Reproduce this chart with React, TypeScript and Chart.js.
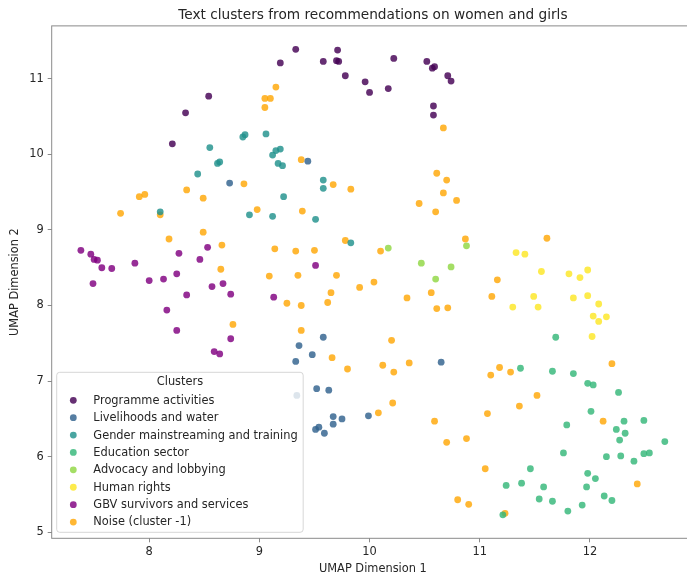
import { useEffect, useRef } from "react";
import { Chart, registerables } from "chart.js";

Chart.register(...registerables);

const FONT = "'DejaVu Sans', 'Liberation Sans', sans-serif";
const TEXT = "#262626";
const FRAME = "#8a8a8a";

const chartTitle = "Text clusters from recommendations on women and girls";
const xAxisTitle = "UMAP Dimension 1";
const yAxisTitle = "UMAP Dimension 2";
const xTicks = [8, 9, 10, 11, 12];
const yTicks = [5, 6, 7, 8, 9, 10, 11];
const xRange = [7.115, 12.945];
const yRange = [4.92, 11.7];

const clusterNames = [
  "Programme activities",
  "Livelihoods and water",
  "Gender mainstreaming and training",
  "Education sector",
  "Advocacy and lobbying",
  "Human rights",
  "GBV survivors and services",
  "Noise (cluster -1)",
];

const clusterColors = [
  "rgba(68, 1, 84, 0.82)",
  "rgba(49, 98, 142, 0.82)",
  "rgba(33, 145, 140, 0.82)",
  "rgba(53, 183, 121, 0.82)",
  "rgba(144, 215, 67, 0.82)",
  "rgba(253, 231, 37, 0.82)",
  "rgba(128, 0, 128, 0.82)",
  "rgba(255, 165, 0, 0.8)",
];

type P = [number, number];

const programmeActivities: P[] = [
  [8.54, 10.77], [8.33, 10.55], [8.21, 10.14], [9.33, 11.39], [9.19, 11.21],
  [9.71, 11.38], [9.58, 11.23], [9.7, 11.24], [9.72, 11.23], [10.22, 11.27],
  [9.78, 11.04], [9.96, 10.96], [10.0, 10.82], [10.17, 10.87], [10.52, 11.23],
  [10.57, 11.14], [10.59, 11.16], [10.71, 11.04], [10.74, 10.97], [10.58, 10.64],
  [10.58, 10.52],
];

const livelihoodsWater: P[] = [
  [8.73, 9.62], [9.44, 9.91], [9.58, 7.58], [9.36, 7.47], [9.48, 7.35],
  [9.33, 7.26], [10.65, 7.25], [9.52, 6.9], [9.63, 6.88], [9.67, 6.53],
  [9.75, 6.5], [9.67, 6.43], [9.51, 6.36], [9.54, 6.39], [9.59, 6.31],
  [9.99, 6.54], [9.34, 6.81],
];

const genderMainstreaming: P[] = [
  [8.87, 10.26], [8.85, 10.23], [8.55, 10.09], [8.62, 9.88], [8.64, 9.9],
  [8.44, 9.74], [8.1, 9.24], [8.91, 9.2], [9.06, 10.27], [9.12, 9.99],
  [9.15, 10.05], [9.19, 10.07], [9.17, 9.88], [9.21, 9.85], [9.58, 9.66],
  [9.58, 9.55], [9.22, 9.44], [9.12, 9.18], [9.51, 9.14], [9.83, 8.83],
];

const educationSector: P[] = [
  [11.69, 7.58], [11.37, 7.17], [11.66, 7.13], [11.85, 7.1], [11.98, 6.97],
  [12.03, 6.95], [12.26, 6.85], [12.01, 6.6], [12.31, 6.47], [12.49, 6.48],
  [12.24, 6.36], [12.32, 6.31], [12.27, 6.22], [11.79, 6.42], [12.68, 6.2],
  [11.76, 6.05], [12.15, 6.0], [12.28, 6.01], [12.4, 5.94], [12.49, 6.04],
  [12.54, 6.05], [11.46, 5.84], [11.24, 5.62], [11.38, 5.65], [11.58, 5.6],
  [11.54, 5.44], [11.66, 5.41], [11.8, 5.28], [11.93, 5.36], [11.98, 5.78],
  [12.05, 5.71], [11.97, 5.6], [12.13, 5.48], [12.2, 5.42], [11.21, 5.23],
];

const advocacyLobbying: P[] = [
  [10.17, 8.76], [10.88, 8.79], [10.47, 8.56], [10.74, 8.51], [10.6, 8.35],
];

const humanRights: P[] = [
  [11.33, 8.7], [11.41, 8.68], [11.56, 8.45], [11.81, 8.42], [11.91, 8.37],
  [11.98, 8.47], [11.49, 8.12], [11.3, 7.98], [11.53, 7.98], [11.85, 8.1],
  [11.98, 8.13], [12.08, 8.02], [12.03, 7.86], [12.08, 7.79], [12.15, 7.85],
  [12.02, 7.59],
];

const gbvSurvivors: P[] = [
  [7.38, 8.73], [7.47, 8.68], [7.5, 8.61], [7.53, 8.6], [7.57, 8.5],
  [7.66, 8.49], [7.87, 8.56], [8.27, 8.69], [8.53, 8.77], [8.46, 8.61],
  [8.25, 8.42], [7.49, 8.29], [8.0, 8.33], [8.13, 8.35], [8.67, 8.29],
  [8.57, 8.25], [8.34, 8.14], [8.74, 8.15], [8.16, 7.94], [8.25, 7.67],
  [8.74, 7.56], [8.59, 7.39], [8.64, 7.36], [9.51, 8.53], [9.13, 8.11],
];

const noise: P[] = [
  [8.86, 9.61], [8.34, 9.53], [7.91, 9.44], [7.96, 9.47], [8.49, 9.42],
  [7.74, 9.22], [8.1, 9.2], [8.98, 9.27], [8.49, 8.97], [8.18, 8.88],
  [8.66, 8.8], [8.65, 8.48], [8.76, 7.75], [9.15, 10.89], [9.05, 10.74],
  [9.1, 10.74], [9.05, 10.62], [10.67, 10.35], [9.38, 9.93], [9.67, 9.6],
  [9.83, 9.54], [10.61, 9.75], [10.7, 9.66], [10.67, 9.49], [10.79, 9.39],
  [10.45, 9.35], [10.6, 9.24], [9.39, 9.25], [9.14, 8.75], [9.33, 8.72],
  [9.5, 8.73], [9.78, 8.86], [10.1, 8.72], [9.09, 8.39], [9.35, 8.4],
  [9.7, 8.4], [10.04, 8.31], [9.91, 8.24], [10.87, 8.88], [9.25, 8.03],
  [9.38, 8.0], [9.65, 8.17], [9.62, 8.04], [10.34, 8.1], [10.56, 8.17],
  [10.61, 7.96], [10.71, 7.97], [9.38, 7.67], [9.66, 7.31], [9.8, 7.16],
  [10.2, 7.54], [10.12, 7.21], [10.22, 7.12], [10.36, 7.24], [10.21, 6.71],
  [10.08, 6.58], [10.59, 6.47], [10.7, 6.19], [10.88, 6.24], [10.8, 5.43],
  [10.9, 5.37], [11.61, 8.89], [11.16, 8.34], [11.11, 8.12], [12.2, 7.23],
  [11.1, 7.08], [11.18, 7.18], [11.28, 7.12], [11.52, 6.81], [11.36, 6.67],
  [11.07, 6.57], [12.12, 6.47], [11.05, 5.84], [12.43, 5.64], [11.23, 5.25],
];

const clusterPoints: P[][] = [
  programmeActivities,
  livelihoodsWater,
  genderMainstreaming,
  educationSector,
  advocacyLobbying,
  humanRights,
  gbvSurvivors,
  noise,
];

const FONT_SIZE = 11.4;
const POINT_RADIUS = 3.4;

const framePlugin = {
  id: "frame",
  afterDatasetsDraw(chart: any) {
    const { ctx, chartArea } = chart;
    ctx.save();
    ctx.strokeStyle = FRAME;
    ctx.lineWidth = 1;
    ctx.strokeRect(
      chartArea.left,
      chartArea.top,
      chartArea.right - chartArea.left,
      chartArea.bottom - chartArea.top
    );
    ctx.restore();
  },
};

const legendPlugin = {
  id: "clusterLegend",
  afterDraw(chart: any) {
    const { ctx, chartArea } = chart;
    ctx.save();
    ctx.font = `${FONT_SIZE}px ${FONT}`;
    let maxW = 0;
    clusterNames.forEach((n) => {
      maxW = Math.max(maxW, ctx.measureText(n).width);
    });
    const x0 = chartArea.left + 5;
    const bottom = chartArea.bottom - 6;
    const h = 160;
    const y0 = bottom - h;
    const w = 36.6 + maxW + 5.5;
    const r = 3;
    ctx.beginPath();
    ctx.moveTo(x0 + r, y0);
    ctx.lineTo(x0 + w - r, y0);
    ctx.quadraticCurveTo(x0 + w, y0, x0 + w, y0 + r);
    ctx.lineTo(x0 + w, y0 + h - r);
    ctx.quadraticCurveTo(x0 + w, y0 + h, x0 + w - r, y0 + h);
    ctx.lineTo(x0 + r, y0 + h);
    ctx.quadraticCurveTo(x0, y0 + h, x0, y0 + h - r);
    ctx.lineTo(x0, y0 + r);
    ctx.quadraticCurveTo(x0, y0, x0 + r, y0);
    ctx.closePath();
    ctx.fillStyle = "rgba(255,255,255,0.8)";
    ctx.fill();
    ctx.strokeStyle = "rgba(204,204,204,0.8)";
    ctx.lineWidth = 1;
    ctx.stroke();

    ctx.fillStyle = TEXT;
    ctx.textBaseline = "middle";
    ctx.textAlign = "center";
    ctx.fillText("Clusters", x0 + w / 2, y0 + 10);
    ctx.textAlign = "left";
    clusterNames.forEach((name, i) => {
      const cy = y0 + 28 + i * 17.39;
      ctx.beginPath();
      ctx.arc(x0 + 16.6, cy, POINT_RADIUS, 0, Math.PI * 2);
      ctx.fillStyle = clusterColors[i];
      ctx.fill();
      ctx.fillStyle = TEXT;
      ctx.fillText(name, x0 + 36.6, cy + 0.5);
    });
    ctx.restore();
  },
};

export default function App() {
  const ref = useRef<HTMLCanvasElement | null>(null);

  useEffect(() => {
    if (!ref.current) return;
    const chart = new Chart(ref.current, {
      type: "scatter",
      data: {
        datasets: clusterNames.map((name, i) => ({
          label: name,
          data: clusterPoints[i].map(([x, y]) => ({ x, y })),
          backgroundColor: clusterColors[i],
          borderWidth: 0,
          pointRadius: POINT_RADIUS,
          pointHoverRadius: POINT_RADIUS,
        })),
      },
      options: {
        responsive: false,
        animation: false,
        layout: { padding: { left: 0, right: 6, top: 0, bottom: 0 } },
        plugins: {
          legend: { display: false },
          tooltip: { enabled: false },
          title: {
            display: true,
            fullSize: false,
            text: chartTitle,
            color: TEXT,
            font: { family: FONT, size: 13.7, weight: "normal", lineHeight: 1.2 },
            padding: { top: 6.8, bottom: 2.64 },
          },
        },
        scales: {
          x: {
            type: "linear",
            min: xRange[0],
            max: xRange[1],
            afterFit: (s: any) => {
              s.height = 39.7;
            },
            afterBuildTicks: (s: any) => {
              s.ticks = xTicks.map((v) => ({ value: v }));
            },
            grid: {
              drawOnChartArea: false,
              drawTicks: true,
              tickLength: 4,
              tickColor: FRAME,
            },
            border: { display: false },
            ticks: {
              color: TEXT,
              padding: 3,
              font: { family: FONT, size: FONT_SIZE },
              callback: (v: any) => String(v),
            },
            title: {
              display: true,
              text: xAxisTitle,
              color: TEXT,
              font: { family: FONT, size: FONT_SIZE, lineHeight: 1.2 },
              padding: { top: 0, bottom: 2.2 },
            },
          },
          y: {
            type: "linear",
            min: yRange[0],
            max: yRange[1],
            afterFit: (s: any) => {
              s.width = 51.7;
            },
            afterBuildTicks: (s: any) => {
              s.ticks = yTicks.map((v) => ({ value: v }));
            },
            grid: {
              drawOnChartArea: false,
              drawTicks: true,
              tickLength: 4,
              tickColor: FRAME,
            },
            border: { display: false },
            ticks: {
              color: TEXT,
              padding: 4,
              font: { family: FONT, size: FONT_SIZE },
              callback: (v: any) => String(v),
            },
            title: {
              display: true,
              text: yAxisTitle,
              color: TEXT,
              font: { family: FONT, size: FONT_SIZE, lineHeight: 1.2 },
              padding: { top: 8.2, bottom: 0 },
            },
          },
        },
      },
      plugins: [framePlugin, legendPlugin],
    } as any);
    return () => chart.destroy();
  }, []);

  return (
    <div
      style={{
        position: "fixed",
        left: 0,
        top: 0,
        width: 687,
        height: 578,
        overflow: "hidden",
        background: "#fff",
      }}
    >
      <canvas ref={ref} width={700} height={578} style={{ display: "block" }} />
    </div>
  );
}
